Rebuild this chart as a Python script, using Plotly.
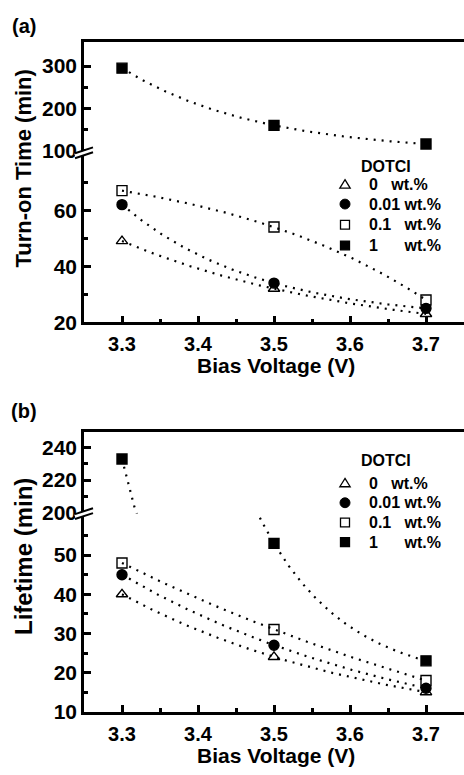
import numpy as np
import plotly.graph_objects as go

# ---------------- data ----------------
bias_voltage = [3.3, 3.5, 3.7]
series_labels = ["0 wt.%", "0.01 wt.%", "0.1 wt.%", "1 wt.%"]
legend_texts = ["0\u00a0\u00a0\u00a0wt.%", "0.01 wt.%", "0.1\u00a0\u00a0\u00a0wt.%",
                "1\u00a0\u00a0\u00a0\u00a0\u00a0\u00a0wt.%"]
legend_title = "DOTCI"

turn_on_0 = [49, 32, 23]
turn_on_001 = [62, 34, 25]
turn_on_01 = [67, 54, 28]
turn_on_1 = [295, 160, 116]

lifetime_0 = [40, 24, 15]
lifetime_001 = [45, 27, 16]
lifetime_01 = [48, 31, 18]
lifetime_1 = [233, 53, 23]

x_ticks = [3.3, 3.4, 3.5, 3.6, 3.7]
x_minor = [3.35, 3.45, 3.55, 3.65, 3.75]
a_low_ticks = [20, 40, 60]
a_low_minor = [30, 50, 70]
a_up_ticks = [100, 200, 300]
a_up_minor = [150, 250]
b_low_ticks = [10, 20, 30, 40, 50]
b_low_minor = [15, 25, 35, 45, 55]
b_up_ticks = [200, 220, 240]
b_up_minor = [210, 230]

# ---------------- styling ----------------
W, H = 464, 775
ML = 84
PW = W - ML
FONT = "Liberation Sans, Arial, Helvetica, sans-serif"
symbols = ["triangle-up-open", "circle", "square-open", "square"]


def px2x(px):
    return (px - ML) / PW


def py2y(py):
    return 1 - py / H


def expfit(x, y):
    """Exact three-parameter exponential fit y = y0 + A*exp(-k*(x-x0))."""
    x = np.asarray(x, float)
    y = np.asarray(y, float)
    h = x[1] - x[0]
    r = (y[2] - y[1]) / (y[1] - y[0])
    k = -np.log(r) / h
    A = (y[1] - y[0]) / (r - 1)
    y0 = y[0] - A
    xs = np.linspace(x[0], x[-1], 300)
    return xs, y0 + A * np.exp(-k * (xs - x[0]))


fig = go.Figure()

panels = [
    ([turn_on_0, turn_on_001, turn_on_01, turn_on_1], ("x", "y"), ("x2", "y2")),
    ([lifetime_0, lifetime_001, lifetime_01, lifetime_1], ("x3", "y3"), ("x4", "y4")),
]

for data, low, up in panels:
    for vals in data:
        xs, ys = expfit(bias_voltage, vals)
        for ax in (low, up):
            fig.add_trace(go.Scatter(x=xs, y=ys, mode="lines", xaxis=ax[0], yaxis=ax[1],
                                     line=dict(color="black", width=2.2, dash="2px,6px"),
                                     showlegend=False, hoverinfo="skip"))
    for i, vals in enumerate(data):
        for ax in (low, up):
            fig.add_trace(go.Scatter(
                x=bias_voltage, y=vals, mode="markers", xaxis=ax[0], yaxis=ax[1],
                marker=dict(symbol=symbols[i], size=10, color="black",
                            line=dict(color="black", width=1.4)),
                name=series_labels[i], showlegend=False))

AX_LW = 2.5
ytickfont = dict(family=FONT, size=21, color="black", weight="bold")
xtickfont = dict(family=FONT, size=20, color="black", weight="bold")


def xaxis_cfg(show_labels, side="bottom", anchor="y"):
    cfg = dict(range=[3.25, 3.75], domain=[0, 1], showline=True, linewidth=AX_LW, linecolor="black",
               showgrid=False, zeroline=False, anchor=anchor, side=side, tickfont=xtickfont)
    if show_labels:
        cfg.update(tickvals=x_ticks, ticktext=[f"{v:.1f}" for v in x_ticks], ticks="inside",
                   ticklen=7, tickwidth=2.5, tickcolor="black", ticklabelstandoff=2,
                   minor=dict(tickvals=x_minor, ticks="inside", ticklen=4, tickwidth=2.5, tickcolor="black"))
    else:
        cfg.update(showticklabels=False, ticks="")
    return cfg


def yaxis_cfg(rng, dom, ticks, minor, anchor):
    return dict(range=rng, domain=dom, showline=True, linewidth=AX_LW, linecolor="black",
                showgrid=False, zeroline=False, anchor=anchor, tickvals=ticks,
                ticks="inside", ticklen=7, tickwidth=2.5, tickcolor="black", tickfont=ytickfont,
                minor=dict(tickvals=minor, ticks="inside", ticklen=4, tickwidth=2.5, tickcolor="black"))


a_break = 155
b_break = 521
fig.update_layout(
    xaxis=xaxis_cfg(True, anchor="y"),
    xaxis2=xaxis_cfg(False, side="top", anchor="y2"),
    xaxis3=xaxis_cfg(True, anchor="y3"),
    xaxis4=xaxis_cfg(False, side="top", anchor="y4"),
    yaxis=yaxis_cfg([20, 80.5], [py2y(327), py2y(a_break)], a_low_ticks, a_low_minor, "x"),
    yaxis2=yaxis_cfg([95.3, 355.8], [py2y(a_break), py2y(43)], a_up_ticks, a_up_minor, "x2"),
    yaxis3=yaxis_cfg([10, 60.6], [py2y(722), py2y(b_break)], b_low_ticks, b_low_minor, "x3"),
    yaxis4=yaxis_cfg([199.4, 249.7], [py2y(b_break), py2y(438)], b_up_ticks, b_up_minor, "x4"),
)
fig.update_xaxes(matches="x")

fig.update_layout(
    width=W, height=H, margin=dict(l=ML, r=0, t=0, b=0),
    paper_bgcolor="white", plot_bgcolor="white", showlegend=False,
)

ann = []
shapes = []


def txt(text, x, y, size, angle=0, xanchor="center", yanchor="middle"):
    ann.append(dict(text=text, x=x, y=y, xref="paper", yref="paper", showarrow=False,
                    textangle=angle, xanchor=xanchor, yanchor=yanchor, borderpad=0,
                    font=dict(family=FONT, size=size, color="black", weight="bold")))


txt("(a)", px2x(24), py2y(26), 20)
txt("(b)", px2x(24), py2y(417), 20)
txt("Turn-on Time (min)", px2x(24), py2y(171), 22, angle=-90)
txt("Lifetime (min)", px2x(24), py2y(565), 24, angle=-90)
txt("Bias Voltage (V)", px2x(276), py2y(358), 21, yanchor="top")
txt("Bias Voltage (V)", px2x(276), py2y(754), 21, yanchor="top")


# manual legends (symbols as layout shapes, labels as annotations)
def legend_block(title_y, rows_y):
    txt(legend_title, px2x(360), py2y(title_y), 16, xanchor="left")
    sx = 345
    for i, ry in enumerate(rows_y):
        txt(legend_texts[i], px2x(368), py2y(ry), 16, xanchor="left")
        s = 4.7
        if i == 0:
            path = (f"M {px2x(sx)},{py2y(ry - s)} L {px2x(sx + s * 1.1)},{py2y(ry + s * 0.8)} "
                    f"L {px2x(sx - s * 1.1)},{py2y(ry + s * 0.8)} Z")
            shapes.append(dict(type="path", xref="paper", yref="paper", path=path,
                               line=dict(color="black", width=1.3), fillcolor="white"))
        elif i == 1:
            shapes.append(dict(type="circle", xref="paper", yref="paper",
                               x0=px2x(sx - 5), x1=px2x(sx + 5), y0=py2y(ry + 5), y1=py2y(ry - 5),
                               line=dict(color="black", width=1), fillcolor="black"))
        else:
            shapes.append(dict(type="rect", xref="paper", yref="paper",
                               x0=px2x(sx - 4.5), x1=px2x(sx + 4.5), y0=py2y(ry + 4.5), y1=py2y(ry - 4.5),
                               line=dict(color="black", width=1.3),
                               fillcolor="white" if i == 2 else "black"))


legend_block(169, [187, 207, 228, 249])
legend_block(467, [490, 510, 530, 550])

# axis break marks
for cy in (a_break, b_break):
    shapes.append(dict(type="line", xref="paper", yref="paper",
                       x0=px2x(75), y0=py2y(cy + 3), x1=px2x(93), y1=py2y(cy - 3),
                       line=dict(color="white", width=4)))
    for off in (-2.5, 2.5):
        shapes.append(dict(type="line", xref="paper", yref="paper",
                           x0=px2x(75), y0=py2y(cy + 3 + off), x1=px2x(93), y1=py2y(cy - 3 + off),
                           line=dict(color="black", width=2)))

fig.update_layout(annotations=ann, shapes=shapes)

fig.write_html("out.html")
